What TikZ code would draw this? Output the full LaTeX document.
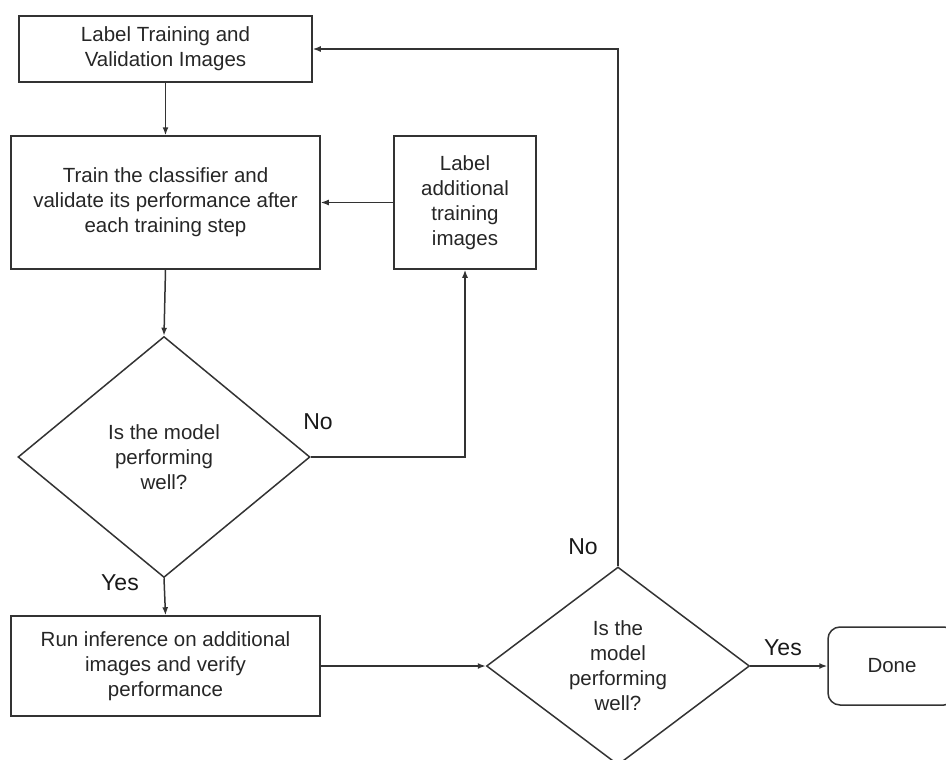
\documentclass[tikz,border=0pt]{standalone}
\usepackage{fontspec}
\setmainfont{Liberation Sans}
\usetikzlibrary{shapes.geometric,arrows.meta}

\tikzset{
    stepbox/.style={draw=black!80,line width=1.5pt,rectangle,inner sep=0pt,
        align=center,font=\fontsize{20.5}{25}\selectfont,text=black!85},
    choice/.style={draw=black!80,line width=1.5pt,diamond,inner sep=0pt,
        align=center,font=\fontsize{20.5}{25}\selectfont,text=black!85},
    answer/.style={font=\fontsize{23}{26}\selectfont,text=black!90,inner sep=0pt},
    flow/.style={draw=black!80,line width=1.5pt,-{Latex[length=8pt,width=6pt]}}
}

\begin{document}
\begin{tikzpicture}[x=1pt,y=-1pt]
    \useasboundingbox (0,0) rectangle (946,760);

    % Training loop
    \node[stepbox,minimum width=293pt,minimum height=66pt] (labelset) at (165.5,49)
        {Label Training and\\Validation Images};
    \node[stepbox,minimum width=309pt,minimum height=133pt] (train) at (165.5,202.5)
        {Train the classifier and\\validate its performance after\\each training step};
    \node[stepbox,minimum width=142pt,minimum height=133pt] (labelmore) at (465,202.5)
        {Label\\additional\\training\\images};
    \node[choice,minimum width=292pt,minimum height=241pt] (check) at (164,457)
        {Is the model\\performing\\well?};

    % Inference and final check
    \node[stepbox,minimum width=309pt,minimum height=100pt] (infer) at (165.5,666)
        {Run inference on additional\\images and verify\\performance};
    \node[choice,minimum width=263pt,minimum height=198pt] (recheck) at (618,666)
        {Is the\\model\\performing\\well?};
    \node[stepbox,rounded corners=12pt,minimum width=128pt,minimum height=78pt] (done) at (892,666)
        {Done};

    % Answers
    \node[answer] (checkno) at (318,422) {No};
    \node[answer] (checkyes) at (120,583) {Yes};
    \node[answer] (recheckno) at (583,547) {No};
    \node[answer] (recheckyes) at (783,648) {Yes};

    % Connectors
    \draw[flow] (labelset.south) -- (train.north);
    \draw[flow] (train.south) -- (check.north);
    \draw[flow] (labelmore.west) -- (train.east);
    \draw[flow] (check.east) -| (labelmore.south);
    \draw[flow] (check.south) -- (infer.north);
    \draw[flow] (infer.east) -- (recheck.west);
    \draw[flow] (recheck.north) |- (labelset.east);
    \draw[flow] (recheck.east) -- (done.west);
\end{tikzpicture}
\end{document}
